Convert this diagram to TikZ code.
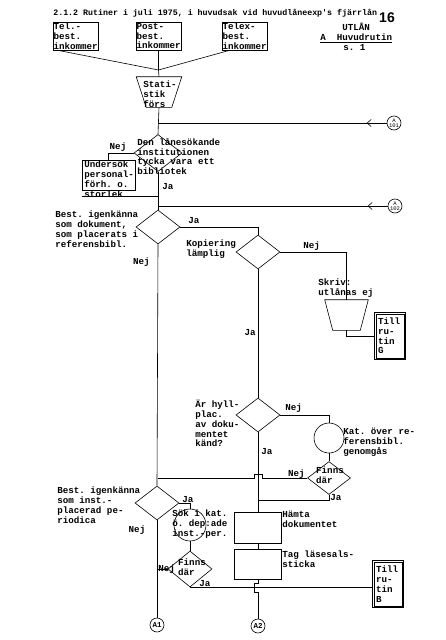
\documentclass[tikz,border=0pt]{standalone}
\usepackage{fontspec}
\setmonofont{Liberation Mono}
\setsansfont{Liberation Sans}
\usetikzlibrary{calc}
\usetikzlibrary{positioning}
\usetikzlibrary{arrows.meta}
\usetikzlibrary{shapes.geometric}

\begin{document}
\begin{tikzpicture}[x=1pt,y=-1pt,line width=0.6pt,
every node/.style = {align=left,inner sep=0pt,font=\ttfamily\bfseries\fontsize{9.2}{9.8}\selectfont},
topp/.style = {draw,minimum width=45pt,minimum height=28pt,text width=44pt,inner sep=0.5pt},
beslut/.style = {draw,diamond,minimum width=44pt,minimum height=34pt},
ruta/.style = {draw,minimum width=47pt,minimum height=31pt},
rutin/.style = {draw,minimum width=31pt,minimum height=47pt,text width=24pt,inner sep=1pt},
rund/.style = {draw,circle,minimum size=30pt},
knut/.style = {draw,circle,minimum size=14pt,align=center,font=\ttfamily\fontsize{5.5}{5}\selectfont},
trapets/.style = {minimum height=30pt},
pil/.style = {-{Straight Barb[length=4pt,width=7pt]}}]
\useasboundingbox (0,0) rectangle (445,640);

% rubrik
\node[anchor=west,font=\ttfamily\bfseries\fontsize{8.3}{9}\selectfont] (rubrik) at (53,13) {2.1.2 Rutiner i juli 1975, i huvudsak vid huvudlåneexp's fjärrlån};
\node[font=\sffamily\bfseries\fontsize{14}{14}\selectfont] (sida) at (387,18) {16};
\node[anchor=north west] (utlan) at (320,23) {\hspace*{22pt}UTLÅN\\\underline{A\ \ Huvudrutin}\\\hspace*{23pt}s. 1};

% inkommande
\node[topp] (tel) at (75.5,36) {Tel.-\\best.\\inkommer};
\node[topp] (post) at (158.5,36) {Post-\\best.\\inkommer};
\node[topp] (telex) at (244.5,36) {Telex-\\best.\\inkommer};
\coordinate (mote) at (158.5,70);
\draw ($(tel.south west)+(5,0)$) -- (mote);
\draw (post.south) -- (mote);
\draw ($(telex.south west)+(8,0)$) -- (mote);

% statistik
\node[trapets,minimum width=45pt] (stat) at (159,92) {};
\draw (stat.north west) -- (stat.north east) -- ($(stat.south east)+(-10,0)$) -- ($(stat.south west)+(10,0)$) -- cycle;
\node (stattext) at (160,94) {Stati-\\stik\\förs};
\draw (mote) -- (stat.north);

% institution
\node[beslut,minimum width=48pt,minimum height=37pt] (den) at (158,153) {};
\node[anchor=north west] (dentext) at (137,138) {Den lånesökande\\institutionen\\tycka vara ett\\bibliotek};
\draw (stat.south) -- (den.north);
\node[knut] (k101) at (394,123) {A\\101};
\draw (k101.west) -- (den.north |- k101);
\draw[pil] (k101.west) -- ++(-20,0);

\node[draw,minimum width=53pt,minimum height=30pt] (unders) at (108.5,175) {};
\node[anchor=north west] (undertext) at (84,161) {Undersök\\personal-\\förh. o.\\storlek};
\draw (den.west) -| (unders.north);
\node[anchor=south] (nej1) at (118,152) {Nej};
\coordinate (ut) at ($(unders.south west)+(0,6)$);
\draw (ut) -- (ut -| den.south);
\node[anchor=west] (ja1) at (162,187) {Ja};

% referensbibl.
\node[beslut] (best1) at (158,227) {};
\node[anchor=north west] (best1text) at (55,211) {Best. igenkänna\\som dokument,\\som placerats i\\referensbibl.};
\draw (den.south) -- (best1.north);
\node[knut] (k102) at (395,206) {A\\102};
\draw (k102.west) -- (best1.north |- k102);
\draw[pil] (k102.west) -- ++(-20,0);
\node[anchor=south west] (ja2) at (188,224) {Ja};
\node[anchor=east] (nej2) at (150,262) {Nej};

% kopiering
\node[beslut] (kop) at (258,252) {};
\node[anchor=north west] (koptext) at (186,240) {Kopiering\\lämplig};
\draw (best1.east) -| (kop.north);
\node[anchor=south west] (nej3) at (303,251) {Nej};

\node[trapets,minimum width=43pt] (skriv) at (346.5,315) {};
\draw (skriv.north west) -- (skriv.north east) -- ($(skriv.south east)+(-8,0)$) -- ($(skriv.south west)+(8,0)$) -- cycle;
\node[anchor=south west] (skrivtext) at (318,298) {Skriv:\\utlånas ej};
\draw (kop.east) -| (skriv.north);
\node[rutin] (tillG) at (390,336) {Till\\ru-\\tin\\G};
\draw ($(tillG.north west)+(2,2)$) rectangle ($(tillG.south east)+(-2,-2)$);
\draw (skriv.south) |- (tillG.west);

% hyllplacering
\node[beslut] (hyll) at (258,415) {};
\node[anchor=north west] (hylltext) at (195,400) {Är hyll-\\plac.\\av doku-\\mentet\\känd?};
\draw (kop.south) -- (hyll.north);
\node[anchor=east] (ja3) at (256,333) {Ja};

\node[rund] (kat) at (329,438) {};
\node[anchor=north west] (kattext) at (343,428) {Kat. över re-\\ferensbibl.\\genomgås};
\draw (hyll.east) -| (kat.north);
\node[anchor=south west] (nej4) at (285,413) {Nej};

\node[beslut,minimum width=43pt,minimum height=33pt] (finnsR) at (329,478) {};
\node (finnsRtext) at (330,475) {Finns\\där};
\draw (kat.south) -- (finnsR.north);
\draw (finnsR.west) -- ($(finnsR.west -| hyll.south)+(4,0)$) -- ++(0,-4) -- ++(-8,0) -- ++(0,4) -- (finnsR.west -| best1.south);
\node[anchor=south east] (nej5) at (305,479) {Nej};
\coordinate (jaR) at ($(finnsR.south -| hyll.south)+(0,5)$);
\draw (finnsR.south) |- (jaR);
\node[anchor=west] (ja4) at (330,498) {Ja};

% hamta
\node[ruta] (hamta) at (258,528) {};
\node[anchor=north west] (hamtatext) at (282,511) {Hämta\\dokumentet};
\draw (hyll.south) -- (hamta.north);
\node[anchor=west] (ja5) at (261,452) {Ja};
\node[ruta,minimum height=30pt] (tag) at (258,564) {};
\node[anchor=north west] (tagtext) at (282,551) {Tag läsesals-\\sticka};
\draw (hamta.south) -- (tag.north);

% periodica
\node[beslut] (period) at (157,503) {};
\node[anchor=north west] (periodtext) at (57,487) {Best. igenkänna\\som inst.-\\placerad pe-\\riodica};
\draw (best1.south) -- (period.north);
\node (nej6) at (137,530) {Nej};
\node[rund,minimum size=32pt] (sok) at (190,525) {};
\node[anchor=north west] (soktext) at (172,510) {Sök i kat.\\ö. dep:ade\\inst.-per.};
\draw (period.east) -| (sok.north);
\node[anchor=south west] (ja6) at (182,503) {Ja};

\node[beslut,minimum height=36pt] (finnsL) at (190,569) {};
\node (finnsLtext) at (192,567) {Finns\\där};
\draw (sok.south) -- (finnsL.north);
\draw (finnsL.west) -- (finnsL.west -| period.south);
\node[anchor=west] (nej7) at (158,569) {Nej};
\node[rutin] (tillB) at (388,584) {Till\\ru-\\tin\\B};
\draw ($(tillB.north west)+(2,2)$) rectangle ($(tillB.south east)+(-2,-2)$);
\draw (finnsL.south) -- (finnsL.south -| tillB.west);
\node[anchor=south west] (ja7) at (199,587) {Ja};

% fortsattning
\node[knut,font=\ttfamily\bfseries\fontsize{7.5}{8}\selectfont] (a1) at (157,625) {A1};
\node[knut,font=\ttfamily\bfseries\fontsize{7.5}{8}\selectfont] (a2) at (258,626) {A2};
\draw (period.south) -- (a1.north);
\draw (tag.south) -- ++(0,4) -- ++(-4,0) -- ++(0,9) -- ++(4,0) -- (a2.north);
\end{tikzpicture}
\end{document}
